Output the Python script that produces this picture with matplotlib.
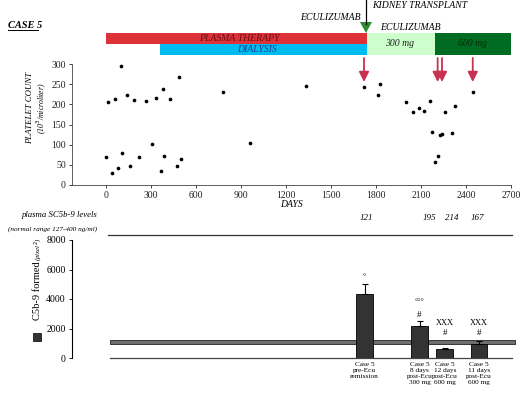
import matplotlib
matplotlib.use("Agg")
import matplotlib.pyplot as plt
import matplotlib.transforms as mtransforms
from matplotlib.patches import Rectangle, Polygon

plt.rcParams['font.family'] = ['Liberation Serif', 'DejaVu Serif']

# ---------------- data ----------------
platelet_days = [16, 62, 98, 138, 187, 267, 336, 382, 429, 489, 782,
                 0, 38, 78, 104, 162, 222, 307, 369, 387, 476, 500, 960,
                 1333, 1720, 1824, 1811, 2002, 2047, 2089, 2118, 2158, 2260,
                 2327, 2447, 2171, 2227, 2242, 2304, 2213, 2191]
platelet_counts = [206, 213, 296, 224, 210, 209, 216, 237, 213, 268, 231,
                   69, 30, 42, 80, 47, 69, 101, 35, 72, 47, 65, 104,
                   246, 243, 250, 223, 206, 180, 191, 184, 209, 180,
                   195, 230, 131, 124, 127, 129, 71, 58]
sc5b9_days = [1720, 2211, 2240, 2445]
x_ticks_days = [0, 300, 600, 900, 1200, 1500, 1800, 2100, 2400, 2700]
y_ticks_plt = [0, 50, 100, 150, 200, 250, 300]

therapy_names = ['PLASMA THERAPY', 'DIALYSIS', '300 mg', '600 mg']
therapy_start = [0, 360, 1740, 2195]
therapy_end = [1740, 1740, 2195, 2700]

bar_labels = ['Case 5\npre-Ecu\nremission', 'Case 5\n8 days\npost-Ecu\n300 mg',
              'Case 5\n12 days\npost-Ecu\n600 mg', 'Case 5\n11 days\npost-Ecu\n600 mg']
bar_values = [4340, 2170, 610, 950]
bar_errors = [680, 340, 70, 200]
bar_marks_top = ['°', '°°°', 'XXX', 'XXX']
bar_marks_hash = ['', '#', '#', '#']
sc5b9_levels = ['121', '195', '214', '167']
normal_band = (950, 1220)
y_ticks_c5b9 = [0, 2000, 4000, 6000, 8000]

# ---------------- figure ----------------
W, H = 520, 394
fig = plt.figure(figsize=(5.2, 3.94), dpi=100)

def fx(px):
    return px / W

def fy(py):
    return 1 - py / H

# ---- top panel ----
ax = fig.add_axes([fx(72), fy(185), fx(511 - 72), (185 - 64) / H])
ax.scatter(platelet_days, platelet_counts, s=7, marker='o', color='black', zorder=3,
           linewidths=0)
ax.set_xlim(-227, 2700)
ax.set_ylim(0, 300)
ax.set_xticks(x_ticks_days)
ax.set_yticks(y_ticks_plt)
for s in ['top', 'right']:
    ax.spines[s].set_visible(False)
for s in ['left', 'bottom']:
    ax.spines[s].set_linewidth(0.6)
    ax.spines[s].set_color('#444444')
ax.tick_params(labelsize=7, length=2.5, width=0.6, pad=2, colors='#222222')
ax.set_xlabel('DAYS', fontsize=7, style='italic', labelpad=0)
fig.text(fx(30), fy(108), 'PLATELET COUNT', rotation=90, ha='center', va='center',
         fontsize=6.3, style='italic')
fig.text(fx(42), fy(108), '(10$^3$/microliter)', rotation=90, ha='center', va='center',
         fontsize=5.6, style='italic')

trans = mtransforms.blended_transform_factory(ax.transData, ax.transAxes)

def afy(py):
    return (185 - py) / (185 - 64)

band_colors = ['#dc3238', '#00bdf0', '#ccffcc', '#006b22']
band_y = [(afy(44), afy(33)), (afy(55), afy(44)), (afy(55), afy(33)), (afy(55), afy(33))]
for c, s, e, (y0, y1) in zip(band_colors, therapy_start, therapy_end, band_y):
    ax.add_patch(Rectangle((s, y0), e - s, y1 - y0, transform=trans, color=c,
                           clip_on=False, lw=0))

ax.text(1155, afy(38.5), therapy_names[0], transform=trans, ha='right', va='center',
        fontsize=7, style='italic', color='#6a0c14')
ax.text(1142, afy(49.5), therapy_names[1], transform=trans, ha='right', va='center',
        fontsize=7, style='italic', color='#1a3c8c')
ax.text(1955, afy(44), therapy_names[2], transform=trans, ha='center', va='center',
        fontsize=7, style='italic', color='#222222')
ax.text(2445, afy(44), therapy_names[3], transform=trans, ha='center', va='center',
        fontsize=7, style='italic', color='#0a2a0a')
ax.text(2027, afy(27), 'ECULIZUMAB', transform=trans, ha='center', va='center',
        fontsize=7, style='italic')
ax.text(1700, afy(17), 'ECULIZUMAB', transform=trans, ha='right', va='center',
        fontsize=7, style='italic')
ax.text(1775, afy(5), 'KIDNEY TRANSPLANT', transform=trans, ha='left', va='center',
        fontsize=7, style='italic')

# transplant line + green arrow head
ax.plot([1733, 1733], [afy(0), afy(24)], transform=trans, color='black', lw=0.9,
        clip_on=False)
ax.add_patch(Polygon([[1733 - 40, afy(22)], [1733 + 40, afy(22)], [1733, afy(33)]],
                     closed=True, transform=trans, color='#2e8b2e', clip_on=False, lw=0))

# sampling arrows
for d in sc5b9_days:
    ax.annotate('', xy=(d, afy(82)), xytext=(d, afy(58)), xycoords=trans, textcoords=trans,
                annotation_clip=False,
                arrowprops=dict(arrowstyle='-|>,head_width=0.3,head_length=0.6',
                                color='#c83250', lw=1.3, shrinkA=0, shrinkB=0))

fig.text(fx(8), fy(25), 'CASE 5', fontsize=7.5, fontweight='bold', style='italic',
         va='center', ha='left')
fig.add_artist(plt.Line2D([fx(8), fx(38)], [fy(30), fy(30)], color='black', lw=0.7))

# ---- bottom panel ----
bx = fig.add_axes([fx(72), fy(358), fx(515 - 72), (358 - 240) / H])
xpos = [0, 1.5, 2.19, 3.12]
bx.bar(xpos, bar_values, width=0.46, color='#333333', edgecolor='black', lw=0.6, zorder=3)
bx.errorbar(xpos, bar_values, yerr=[[0] * 4, bar_errors], fmt='none', ecolor='black',
            elinewidth=0.8, capsize=2, capthick=0.8, zorder=4)
bx.set_xlim(-7.97, 4.1)
bx.set_ylim(0, 8000)
bx.set_yticks(y_ticks_c5b9)
bx.set_xticks([])
for s in ['top', 'right', 'bottom']:
    bx.spines[s].set_visible(False)
bx.spines['left'].set_linewidth(0.8)
bx.tick_params(axis='y', labelsize=7, length=2.5, width=0.6, pad=2)

# normal band and baseline
bx.add_patch(Rectangle((-6.93, normal_band[0]), 4.1 + 6.93, normal_band[1] - normal_band[0],
                       facecolor='#6e6e6e', edgecolor='#222222', lw=0.6, zorder=2,
                       clip_on=False))
bx.plot([-6.93, 4.02], [0, 0], color='#444444', lw=0.9, zorder=2, clip_on=False)

hash_off = [0, 400, 1000, 550]
mark_off = [470, 1290, 1700, 1220]
for x, v, e, m1, m2, ho, mo in zip(xpos, bar_values, bar_errors, bar_marks_top,
                                   bar_marks_hash, hash_off, mark_off):
    top = v + e
    if m2:
        bx.text(x, top + ho, m2, ha='center', va='center', fontsize=6.5)
    bx.text(x, top + mo, m1, ha='center', va='center', fontsize=6)
for x, lab in zip(xpos, bar_labels):
    bx.text(x, -250, lab, ha='center', va='top', fontsize=5.2, linespacing=1.25)

# SC5b-9 levels row
lvl_x = [0.04, 1.76, 2.38, 3.07]
for x, t in zip(lvl_x, sc5b9_levels):
    bx.text(x, 8000 + (240 - 218) * 8000 / 118, t, ha='center', va='center',
            fontsize=6.5, style='italic', clip_on=False)
bx.plot([-7.0, 4.02], [8000 + 5 * 8000 / 118] * 2, color='#333333', lw=0.9, clip_on=False)
fig.text(fx(97), fy(215), 'plasma SC5b-9 levels', ha='right', va='center', fontsize=6.3,
         style='italic')
fig.text(fx(97), fy(229), '(normal range 127-400 ng/ml)', ha='right', va='center',
         fontsize=5.2, style='italic')

fig.text(fx(38), fy(291), 'C5b-9 formed', rotation=90, ha='center', va='center',
         fontsize=7.5)
fig.text(fx(39), fy(249), '(pixel$^2$)', rotation=90, ha='center', va='center',
         fontsize=5, style='italic')
fig.add_artist(Rectangle((fx(33), fy(341)), fx(8), 8 / H, facecolor='#333333',
                         edgecolor='black', lw=0.5))

fig.savefig('out.png', dpi=100)
